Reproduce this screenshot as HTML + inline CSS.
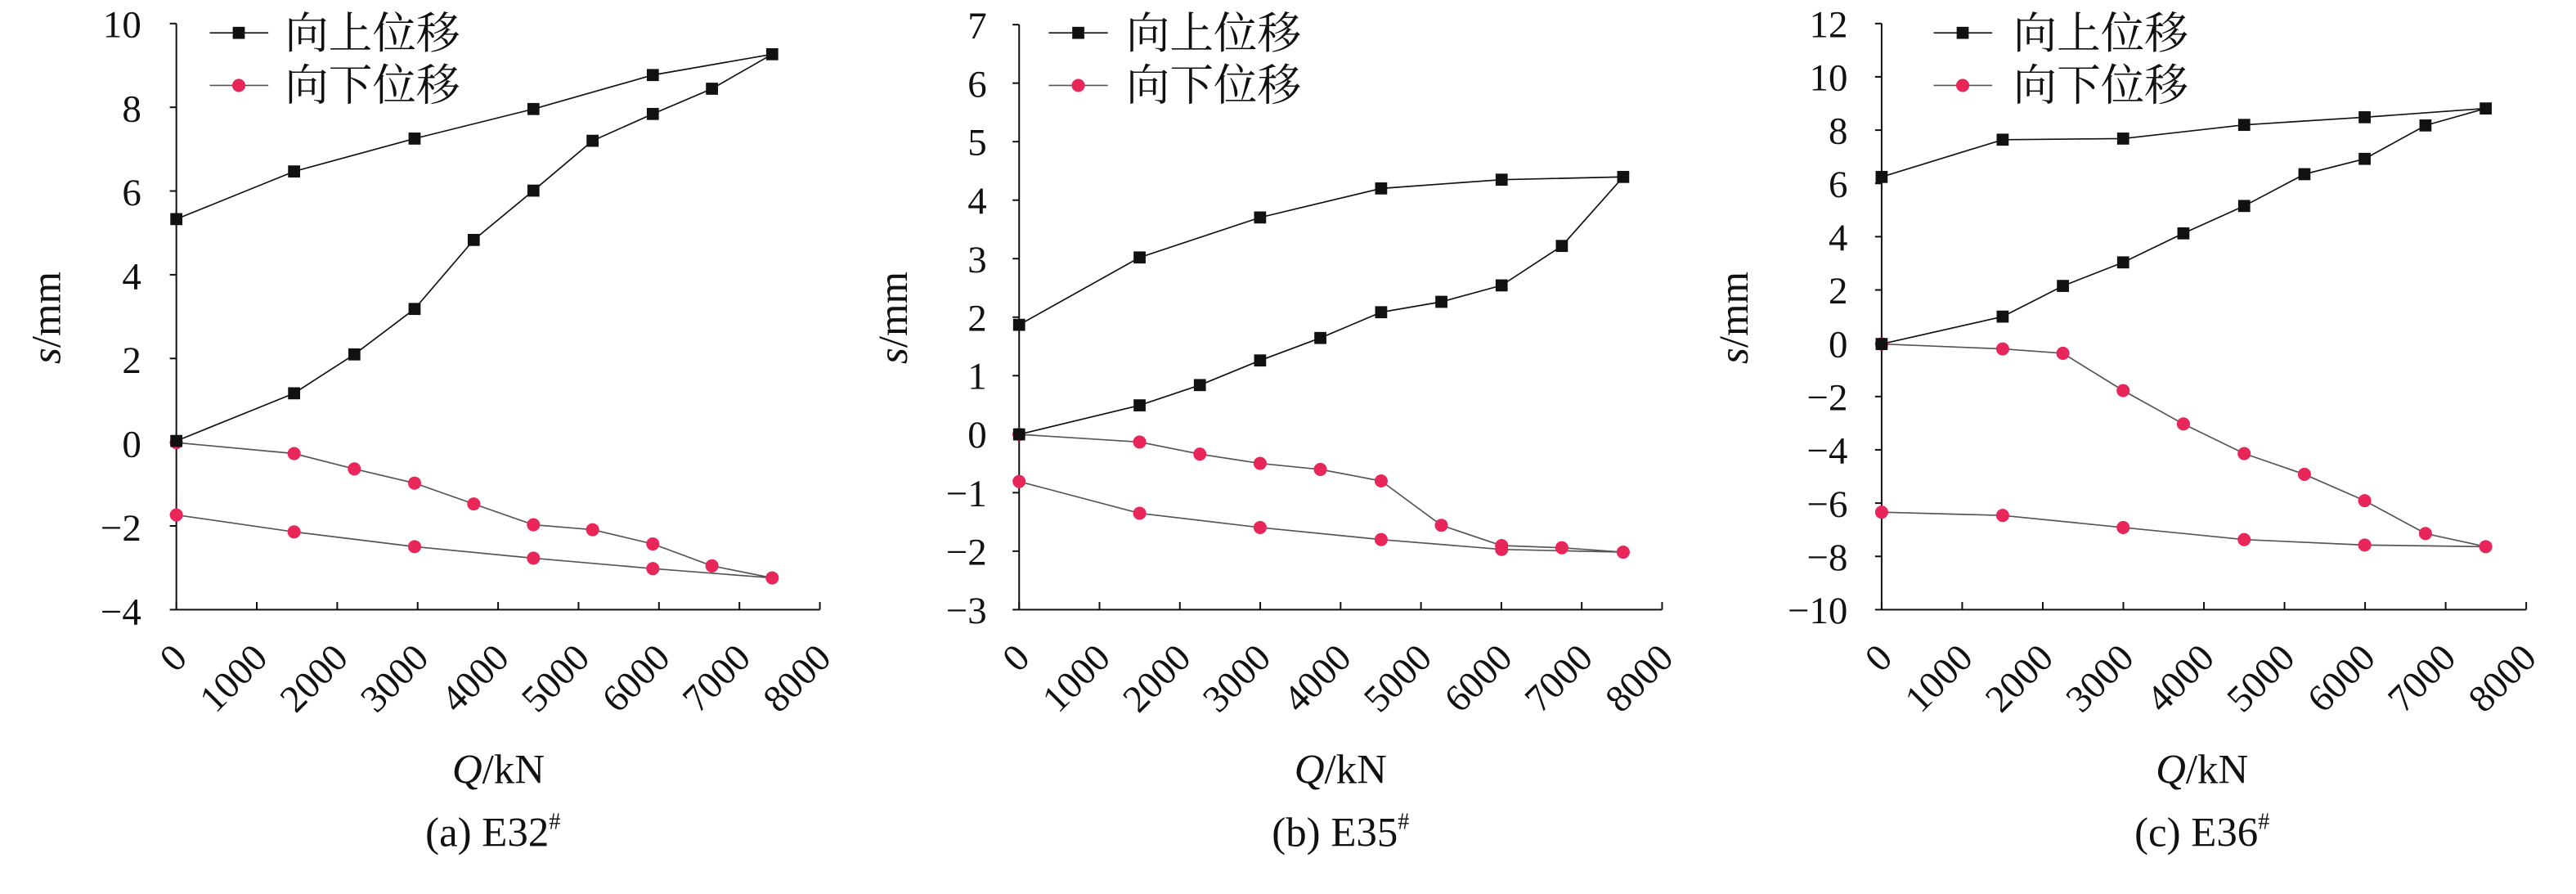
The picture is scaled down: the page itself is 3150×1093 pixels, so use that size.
<!DOCTYPE html>
<html><head><meta charset="utf-8"><style>
html,body{margin:0;padding:0;background:#fff;}
svg{display:block;}
text{font-family:"Liberation Serif","Noto Serif CJK SC",serif;fill:#111;}
.cn{font-family:"Liberation Serif","Noto Serif CJK SC","Noto Sans CJK SC",serif;}
</style></head><body>
<svg id="s" width="3150" height="1093" viewBox="0 0 3150 1093" xmlns="http://www.w3.org/2000/svg">
<g id="A" transform="scale(0.6697)">
 <g font-size="70" text-anchor="end">
  <text x="258" y="68">10</text><text x="258" y="222">8</text><text x="258" y="375">6</text><text x="258" y="528">4</text><text x="258" y="681">2</text><text x="258" y="834">0</text><text x="258" y="987">−2</text><text x="258" y="1140">−4</text>
 </g>
 <g font-size="70" text-anchor="end">
  <text transform="translate(345,1205) rotate(-45)">0</text>
  <text transform="translate(492,1205) rotate(-45)">1000</text>
  <text transform="translate(639,1205) rotate(-45)">2000</text>
  <text transform="translate(786,1205) rotate(-45)">3000</text>
  <text transform="translate(933,1205) rotate(-45)">4000</text>
  <text transform="translate(1080,1205) rotate(-45)">5000</text>
  <text transform="translate(1227,1205) rotate(-45)">6000</text>
  <text transform="translate(1374,1205) rotate(-45)">7000</text>
  <text transform="translate(1521,1205) rotate(-45)">8000</text>
 </g>
 <text transform="translate(110,580) rotate(-90)" font-size="76" text-anchor="middle"><tspan font-style="italic">s</tspan>/mm</text>
 <text x="910" y="1430" font-size="76" text-anchor="middle"><tspan font-style="italic">Q</tspan>/kN</text>
 <text x="900" y="1545" font-size="76" text-anchor="middle">(a) E32<tspan font-size="42" dy="-32">#</tspan></text>
 <g class="cn" font-size="80"><text class="cn" x="520" y="88">向上位移</text><text class="cn" x="520" y="183">向下位移</text></g>
</g>
<g id="B" transform="translate(1050,0) scale(0.6697)">
 <g font-size="70" text-anchor="end">
  <text x="234" y="70">7</text><text x="234" y="177">6</text><text x="234" y="283">5</text><text x="234" y="390">4</text><text x="234" y="497">3</text><text x="234" y="604">2</text><text x="234" y="710">1</text><text x="234" y="817">0</text><text x="234" y="924">−1</text><text x="234" y="1031">−2</text><text x="234" y="1138">−3</text>
 </g>
 <g font-size="70" text-anchor="end">
  <text transform="translate(316,1205) rotate(-45)">0</text>
  <text transform="translate(463,1205) rotate(-45)">1000</text>
  <text transform="translate(610,1205) rotate(-45)">2000</text>
  <text transform="translate(756,1205) rotate(-45)">3000</text>
  <text transform="translate(903,1205) rotate(-45)">4000</text>
  <text transform="translate(1050,1205) rotate(-45)">5000</text>
  <text transform="translate(1197,1205) rotate(-45)">6000</text>
  <text transform="translate(1344,1205) rotate(-45)">7000</text>
  <text transform="translate(1491,1205) rotate(-45)">8000</text>
 </g>
 <text transform="translate(88,580) rotate(-90)" font-size="76" text-anchor="middle"><tspan font-style="italic">s</tspan>/mm</text>
 <text x="880" y="1430" font-size="76" text-anchor="middle"><tspan font-style="italic">Q</tspan>/kN</text>
 <text x="880" y="1545" font-size="76" text-anchor="middle">(b) E35<tspan font-size="42" dy="-32">#</tspan></text>
 <g font-size="80"><text class="cn" x="488" y="88">向上位移</text><text class="cn" x="488" y="183">向下位移</text></g>
</g>
<g id="C" transform="translate(2100,0) scale(0.6697)">
 <g font-size="70" text-anchor="end">
  <text x="238" y="68">12</text><text x="238" y="165">10</text><text x="238" y="262">8</text><text x="238" y="360">6</text><text x="238" y="457">4</text><text x="238" y="554">2</text><text x="238" y="652">0</text><text x="238" y="749">−2</text><text x="238" y="846">−4</text><text x="238" y="944">−6</text><text x="238" y="1041">−8</text><text x="238" y="1138">−10</text>
 </g>
 <g font-size="70" text-anchor="end">
  <text transform="translate(323,1205) rotate(-45)">0</text>
  <text transform="translate(470,1205) rotate(-45)">1000</text>
  <text transform="translate(617,1205) rotate(-45)">2000</text>
  <text transform="translate(764,1205) rotate(-45)">3000</text>
  <text transform="translate(911,1205) rotate(-45)">4000</text>
  <text transform="translate(1058,1205) rotate(-45)">5000</text>
  <text transform="translate(1205,1205) rotate(-45)">6000</text>
  <text transform="translate(1352,1205) rotate(-45)">7000</text>
  <text transform="translate(1499,1205) rotate(-45)">8000</text>
 </g>
 <text transform="translate(55,580) rotate(-90)" font-size="76" text-anchor="middle"><tspan font-style="italic">s</tspan>/mm</text>
 <text x="885" y="1430" font-size="76" text-anchor="middle"><tspan font-style="italic">Q</tspan>/kN</text>
 <text x="885" y="1545" font-size="76" text-anchor="middle">(c) E36<tspan font-size="42" dy="-32">#</tspan></text>
 <g font-size="80"><text class="cn" x="540" y="88">向上位移</text><text class="cn" x="540" y="183">向下位移</text></g>
</g>
</svg>
<script>
var NS="http://www.w3.org/2000/svg";
function el(p,t,a){var e=document.createElementNS(NS,t);for(var k in a)e.setAttribute(k,a[k]);p.appendChild(e);return e;}
var charts=[
 {id:"A",ax:322,top:43,bot:1113,xe:1497,ny:7,leg:[383,490,436],
  up:[[322,805],[537,718],[647,647],[757,564],[865,438],[974,348],[1082,257],[1192,208],[1300,162],[1410,99],[1192,137],[974,199],[757,253],[537,313],[322,400]],
  dn:[[322,808],[537,828],[647,856],[757,882],[865,920],[974,958],[1082,967],[1192,993],[1300,1033],[1410,1055],[1192,1038],[974,1019],[757,998],[537,971],[322,940]]},
 {id:"B",ax:293,top:45,bot:1113,xe:1467,ny:10,leg:[347,455,401],
  up:[[293,793],[513,740],[623,703],[733,658],[843,617],[954,570],[1064,551],[1174,521],[1284,449],[1396,323],[1174,328],[954,344],[733,397],[513,470],[293,593]],
  dn:[[293,793],[513,807],[623,829],[733,846],[843,857],[954,878],[1064,959],[1174,996],[1284,1000],[1396,1008],[1174,1003],[954,985],[733,963],[513,937],[293,879]]},
 {id:"C",ax:300,top:43,bot:1113,xe:1477,ny:11,leg:[395,502,448],
  up:[[300,628],[521,578],[631,522],[741,479],[851,426],[962,376],[1072,318],[1182,290],[1293,229],[1403,198],[1182,214],[962,228],[741,253],[521,255],[300,323]],
  dn:[[300,628],[521,637],[631,645],[741,713],[851,774],[962,828],[1072,866],[1182,914],[1293,974],[1403,998],[1182,995],[962,985],[741,963],[521,941],[300,935]]}
];
charts.forEach(function(c){
 var g=document.getElementById(c.id);
 var sw=3;
 el(g,"line",{x1:c.ax,y1:c.top,x2:c.ax,y2:c.bot,stroke:"#111","stroke-width":sw});
 el(g,"line",{x1:c.ax,y1:c.bot,x2:c.xe,y2:c.bot,stroke:"#111","stroke-width":sw});
 for(var i=0;i<=c.ny;i++){var y=c.top+(c.bot-c.top)*i/c.ny;el(g,"line",{x1:c.ax-12,y1:y,x2:c.ax,y2:y,stroke:"#111","stroke-width":sw});}
 for(var i=0;i<=8;i++){var x=c.ax+(c.xe-c.ax)*i/8;el(g,"line",{x1:x,y1:c.bot-14,x2:x,y2:c.bot,stroke:"#111","stroke-width":sw});}
 el(g,"polyline",{points:c.dn.map(function(p){return p.join(",")}).join(" "),fill:"none",stroke:"#555","stroke-width":2.5});
 el(g,"polyline",{points:c.up.map(function(p){return p.join(",")}).join(" "),fill:"none",stroke:"#111","stroke-width":2.5});
 c.dn.forEach(function(p){el(g,"circle",{cx:p[0],cy:p[1],r:12,fill:"#e8265a"});});
 c.up.forEach(function(p){el(g,"rect",{x:p[0]-11,y:p[1]-11,width:22,height:22,fill:"#111"});});
 var L=c.leg;
 el(g,"line",{x1:L[0],y1:60,x2:L[1],y2:60,stroke:"#111","stroke-width":2.5});
 el(g,"rect",{x:L[2]-11,y:49,width:22,height:22,fill:"#111"});
 el(g,"line",{x1:L[0],y1:156,x2:L[1],y2:156,stroke:"#555","stroke-width":2.5});
 el(g,"circle",{cx:L[2],cy:156,r:12,fill:"#e8265a"});
});
</script>
</body></html>
